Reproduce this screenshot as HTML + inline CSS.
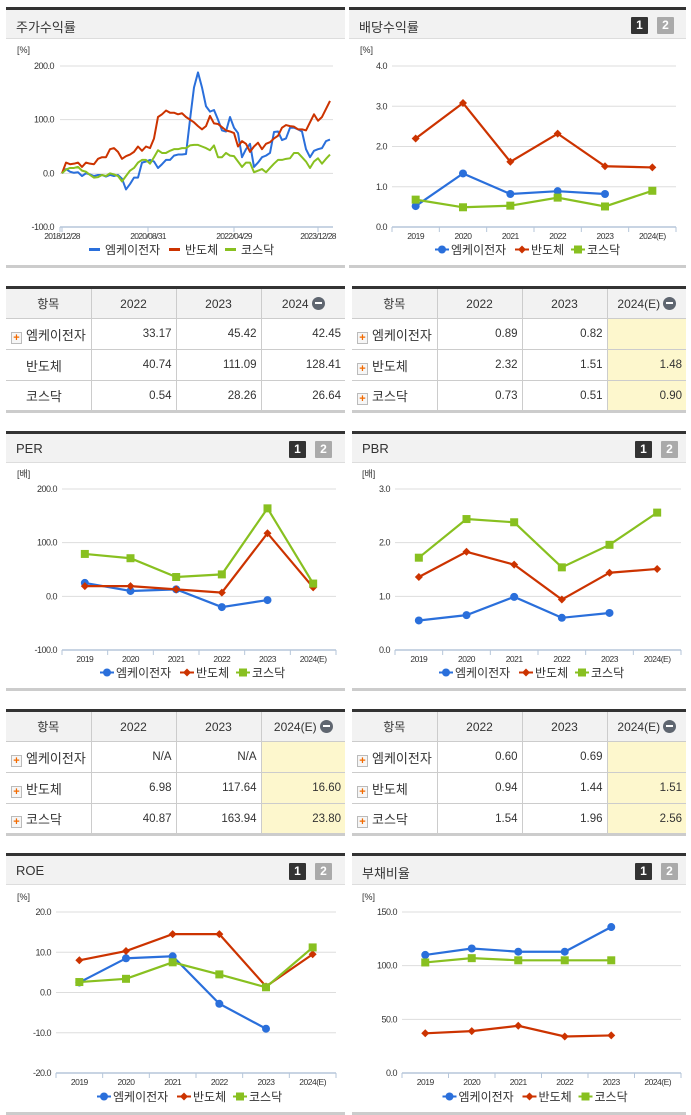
<!DOCTYPE html>
<html><head><meta charset="utf-8">
<style>
*{margin:0;padding:0;box-sizing:border-box}
body{width:691px;height:1115px;background:#fff;position:relative;overflow:hidden;font-family:"Liberation Sans","Noto Sans CJK KR",sans-serif;color:#333}
.hdr{position:absolute;height:32px;background:#f2f2f2;border-top:3px solid #333;border-bottom:1px solid #ddd}
.hdr span.t{position:absolute;left:10px;top:7px;font-size:13px;color:#333}
.btn{position:absolute;top:7px;width:17px;height:17px;font-size:12px;font-weight:bold;color:#fff;text-align:center;line-height:17px;border-radius:1px}
.b1{background:#333}.b2{background:#aaa}
.foot{position:absolute;height:3px;background:#ccc}
table{position:absolute;border-collapse:collapse;font-size:12px;border-top:3px solid #333;border-bottom:3px solid #ccc}
td,th{border:1px solid #ccc;height:31px;font-weight:normal;vertical-align:middle}
th{background:#f2f2f2;text-align:center;font-size:12px}
tr>*:first-child{border-left:none}tr>*:last-child{border-right:none}
td{text-align:right;padding-right:4px;font-size:11.5px}
td.n{text-align:left;padding-left:5px;font-size:13px}
td.y{background:#fdf7cd}
.pl{display:inline-block;width:11px;height:12px;border:1px solid #bbb;background:#f6f6f6;color:#f26a00;font-size:11px;font-weight:bold;line-height:10px;text-align:center;vertical-align:-1px;margin-right:4px}
.mi{display:inline-block;width:13px;height:13px;border-radius:50%;background:#5f6670;vertical-align:-2px;position:relative;margin-left:3px}
.mi:after{content:"";position:absolute;left:3px;top:5.5px;width:7px;height:2px;background:#fff}
svg{position:absolute;left:0;top:0}
</style></head><body>

<div class="hdr" style="left:6px;top:7px;width:339px"><span class="t">주가수익률</span></div>
<div class="foot" style="left:6px;top:265px;width:339px"></div>
<div class="hdr" style="left:349px;top:7px;width:337px"><span class="t">배당수익률</span><div class="btn b1" style="left:282px">1</div><div class="btn b2" style="left:308px">2</div></div>
<div class="foot" style="left:349px;top:265px;width:337px"></div>

<div class="hdr" style="left:6px;top:431px;width:339px"><span class="t">PER</span><div class="btn b1" style="left:283px">1</div><div class="btn b2" style="left:309px">2</div></div>
<div class="foot" style="left:6px;top:688px;width:339px"></div>
<div class="hdr" style="left:352px;top:431px;width:334px"><span class="t">PBR</span><div class="btn b1" style="left:283px">1</div><div class="btn b2" style="left:309px">2</div></div>
<div class="foot" style="left:352px;top:688px;width:334px"></div>

<div class="hdr" style="left:6px;top:853px;width:339px"><span class="t">ROE</span><div class="btn b1" style="left:283px">1</div><div class="btn b2" style="left:309px">2</div></div>
<div class="foot" style="left:6px;top:1112px;width:339px"></div>
<div class="hdr" style="left:352px;top:853px;width:334px"><span class="t">부채비율</span><div class="btn b1" style="left:283px">1</div><div class="btn b2" style="left:309px">2</div></div>
<div class="foot" style="left:352px;top:1112px;width:334px"></div>

<table style="left:6px;top:286px;width:339px">
<tr><th style="width:85px">항목</th><th style="width:85px">2022</th><th style="width:85px">2023</th><th>2024<span class="mi"></span></th></tr>
<tr><td class="n"><span class="pl">+</span>엠케이전자</td><td>33.17</td><td>45.42</td><td>42.45</td></tr>
<tr><td class="n" style="padding-left:20px">반도체</td><td>40.74</td><td>111.09</td><td>128.41</td></tr>
<tr><td class="n" style="padding-left:20px">코스닥</td><td>0.54</td><td>28.26</td><td>26.64</td></tr>
</table>
<table style="left:352px;top:286px;width:334px">
<tr><th style="width:85px">항목</th><th style="width:85px">2022</th><th style="width:85px">2023</th><th>2024(E)<span class="mi"></span></th></tr>
<tr><td class="n"><span class="pl">+</span>엠케이전자</td><td>0.89</td><td>0.82</td><td class="y"></td></tr>
<tr><td class="n"><span class="pl">+</span>반도체</td><td>2.32</td><td>1.51</td><td class="y">1.48</td></tr>
<tr><td class="n"><span class="pl">+</span>코스닥</td><td>0.73</td><td>0.51</td><td class="y">0.90</td></tr>
</table>
<table style="left:6px;top:709px;width:339px">
<tr><th style="width:85px">항목</th><th style="width:85px">2022</th><th style="width:85px">2023</th><th>2024(E)<span class="mi"></span></th></tr>
<tr><td class="n"><span class="pl">+</span>엠케이전자</td><td>N/A</td><td>N/A</td><td class="y"></td></tr>
<tr><td class="n"><span class="pl">+</span>반도체</td><td>6.98</td><td>117.64</td><td class="y">16.60</td></tr>
<tr><td class="n"><span class="pl">+</span>코스닥</td><td>40.87</td><td>163.94</td><td class="y">23.80</td></tr>
</table>
<table style="left:352px;top:709px;width:334px">
<tr><th style="width:85px">항목</th><th style="width:85px">2022</th><th style="width:85px">2023</th><th>2024(E)<span class="mi"></span></th></tr>
<tr><td class="n"><span class="pl">+</span>엠케이전자</td><td>0.60</td><td>0.69</td><td class="y"></td></tr>
<tr><td class="n"><span class="pl">+</span>반도체</td><td>0.94</td><td>1.44</td><td class="y">1.51</td></tr>
<tr><td class="n"><span class="pl">+</span>코스닥</td><td>1.54</td><td>1.96</td><td class="y">2.56</td></tr>
</table>

<svg id="cv" width="691" height="1115"></svg>

<script>
// ---- data ----
const seriesNames = ["엠케이전자","반도체","코스닥"];
const colors = ["#2a6fdb","#cc3300","#88c020"];
const years = ["2019","2020","2021","2022","2023","2024(E)"];

const stockTicks = ["2018/12/28","2020/08/31","2022/04/29","2023/12/28"];
const stockTickIdx = [0,21.5,43,64];
const stockMK = [0,8,3,1,2,-5,0,-2,-5,-3,-3,-6,-3,-5,-3,-10,-30,-20,-8,-8,20,22,25,22,10,17,25,25,33,35,35,36,100,160,188,160,125,115,118,100,80,78,105,85,75,30,45,55,12,20,30,33,38,77,78,62,65,85,85,82,78,45,30,42,45,47,60,63];
const stockSemi = [0,20,17,18,20,12,20,18,17,27,30,30,45,47,40,27,32,35,40,50,42,50,47,65,105,110,117,113,113,110,112,105,100,95,88,82,88,107,93,92,86,80,78,75,50,60,55,40,50,57,45,55,58,65,70,85,90,88,87,82,82,80,95,110,98,105,120,135];
const stockKQ = [0,7,10,10,12,5,3,-3,-8,-7,-3,-5,0,-2,-5,-15,-5,5,10,20,25,25,18,30,43,38,38,42,45,45,47,47,52,53,53,50,47,43,52,30,30,38,33,32,22,12,20,20,2,5,8,2,10,18,25,25,27,28,38,38,30,22,10,22,28,18,27,35];

const divMK = [0.52,1.33,0.82,0.89,0.82,null];
const divSemi = [2.2,3.08,1.62,2.32,1.51,1.48];
const divKQ = [0.68,0.49,0.53,0.73,0.51,0.90];
const perMK = [25,10,13,-20,-7,null];
const perSemi = [19,19,13,6.98,117.64,16.6];
const perKQ = [79,71,36,40.87,163.94,23.8];
const pbrMK = [0.55,0.65,0.99,0.60,0.69,null];
const pbrSemi = [1.36,1.83,1.59,0.94,1.44,1.51];
const pbrKQ = [1.72,2.44,2.38,1.54,1.96,2.56];
const roeMK = [2.5,8.5,9,-2.8,-9,null];
const roeSemi = [8,10.3,14.5,14.5,1.5,9.5];
const roeKQ = [2.6,3.4,7.5,4.5,1.3,11.2];
const debtMK = [110,116,113,113,136,null];
const debtSemi = [37,39,44,34,35,null];
const debtKQ = [103,107,105,105,105,null];

const NS="http://www.w3.org/2000/svg";
const svg=document.getElementById('cv');
function mk(tag,attrs,parent){const e=document.createElementNS(NS,tag);for(const k in attrs)e.setAttribute(k,attrs[k]);(parent||svg).appendChild(e);return e;}
function txt(x,y,s,size,anchor,parent){const t=mk('text',{x:x,y:y,'font-size':size,'text-anchor':anchor||'start',fill:'#333','font-family':'Liberation Sans, Noto Sans CJK KR, sans-serif'},parent);t.textContent=s;return t;}

function marker(g,type,x,y,c){
  let m;
  if(type===0)m=mk('circle',{cx:x,cy:y,r:4,fill:c},g);
  else if(type===1)m=mk('path',{d:`M${x} ${y-4}L${x+4} ${y}L${x} ${y+4}L${x-4} ${y}Z`,fill:c},g);
  else m=mk('rect',{x:x-4,y:y-4,width:8,height:8,fill:c},g);
  return m;
}

function legend(g,cx,y,lineOnly){
  const w=[80,56,50];let total=w[0]+w[1]+w[2];let x=cx-total/2;
  for(let i=0;i<3;i++){
    const le=mk('g',{},g);
    
    
    if(lineOnly) mk('rect',{x:x,y:y-5,width:11,height:3,fill:colors[i]},le);
    else{mk('rect',{x:x,y:y-4.5,width:14,height:2,fill:colors[i]},le);marker(le,i,x+7,y-3.5,colors[i]);}
    txt(x+16,y+1,seriesNames[i],12,'start',le);
    x+=w[i];
  }
}

function catChart(name,o,data){
  const g=mk('g',{});
  
  
  const ys=v=>o.y0+(o.max-v)/(o.max-o.min)*(o.y1-o.y0);
  const band=(o.x1-o.x0)/years.length;
  const xs=i=>o.x0+band*(i+0.5);
  txt(o.ux,o.uy,o.unit,9,'start',g);
  for(let v=o.min;v<=o.max+1e-9;v+=o.step){
    const y=ys(v);
    if(v>o.min+1e-9)mk('line',{x1:o.x0,x2:o.x1,y1:y,y2:y,stroke:'#ddd','stroke-width':1},g);
    txt(o.x0-5,y+3,v.toFixed(1),9,'end',g).setAttribute('letter-spacing','-0.5');
  }
  mk('line',{x1:o.x0,x2:o.x1,y1:o.y1,y2:o.y1,stroke:'#b6c6da','stroke-width':1.5},g);
  for(let i=0;i<=years.length;i++){const x=o.x0+band*i;mk('line',{x1:x,x2:x,y1:o.y1,y2:o.y1+5,stroke:'#b6c6da'},g);}
  years.forEach((yr,i)=>txt(xs(i),o.y1+12,yr,8.5,'middle',g).setAttribute('letter-spacing','-0.5'));
  data.forEach((arr,s)=>{
    let d='';arr.forEach((v,i)=>{if(v!==null)d+=(d?'L':'M')+xs(i)+' '+ys(v);});
    const p=mk('path',{d:d,fill:'none',stroke:colors[s],'stroke-width':2.2},g);
    
    
    arr.forEach((v,i)=>{if(v!==null){const m=marker(g,s,xs(i),ys(v),colors[s]);
      
      }});
  });
  legend(g,(o.x0+o.x1)/2-6,o.ly,false);
}

// stock chart
(function(){
  const g=mk('g',{});
  
  
  const x0=62,step=4,y0=66,y1=227,max=200,min=-100,ax=60,ar=333;
  const ys=v=>y0+(max-v)/(max-min)*(y1-y0);
  const xs=i=>x0+i*step;
  txt(17,53,'[%]',9,'start',g);
  [200,100,0,-100].forEach(v=>{const y=ys(v);if(v>min)mk('line',{x1:ax,x2:ar,y1:y,y2:y,stroke:'#ddd'},g);txt(ax-6,y+3,v.toFixed(1),9,'end',g).setAttribute('letter-spacing','-0.5');});
  mk('line',{x1:ax,x2:ar,y1:y1,y2:y1,stroke:'#b6c6da','stroke-width':1.5},g);
  mk('line',{x1:ax,x2:ax,y1:y1,y2:y1+5,stroke:'#b6c6da'},g);
  stockTicks.forEach((t,k)=>{const x=xs(stockTickIdx[k]);mk('line',{x1:x,x2:x,y1:y1,y2:y1+5,stroke:'#b6c6da'},g);txt(x,y1+12,t,8.5,'middle',g).setAttribute('letter-spacing','-0.7');});
  [stockMK,stockSemi,stockKQ].forEach((arr,s)=>{
    const d=arr.map((v,i)=>(i?'L':'M')+xs(i)+' '+ys(v)).join('');
    const p=mk('path',{d:d,fill:'none',stroke:colors[s],'stroke-width':2,'stroke-linejoin':'round'},g);
    
    
  });
  legend(g,182,253,true);
})();

catChart('dividend-chart',{x0:392,x1:676,y0:66,y1:227,min:0,max:4,step:1,unit:'[%]',ux:360,uy:53,ly:253},[divMK,divSemi,divKQ]);
catChart('per-chart',{x0:62,x1:336,y0:489,y1:650,min:-100,max:200,step:100,unit:'[배]',ux:17,uy:477,ly:676},[perMK,perSemi,perKQ]);
catChart('pbr-chart',{x0:395,x1:681,y0:489,y1:650,min:0,max:3,step:1,unit:'[배]',ux:362,uy:477,ly:676},[pbrMK,pbrSemi,pbrKQ]);
catChart('roe-chart',{x0:56,x1:336,y0:912,y1:1073,min:-20,max:20,step:10,unit:'[%]',ux:17,uy:900,ly:1100},[roeMK,roeSemi,roeKQ]);
catChart('debt-ratio-chart',{x0:402,x1:681,y0:912,y1:1073,min:0,max:150,step:50,unit:'[%]',ux:362,uy:900,ly:1100},[debtMK,debtSemi,debtKQ]);
</script>
</body></html>
